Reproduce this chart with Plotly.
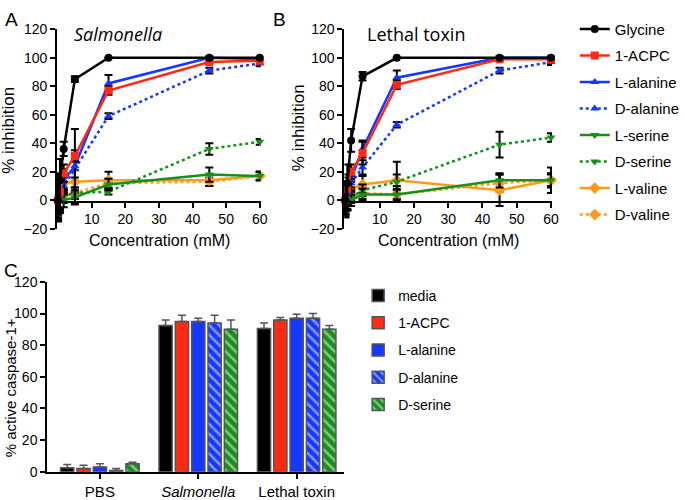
import plotly.graph_objects as go

W, H = 685, 500

conc = [0, 0.56, 1.67, 5, 15, 45, 60]
compounds = ['Glycine', '1-ACPC', 'L-alanine', 'D-alanine', 'L-serine', 'D-serine', 'L-valine', 'D-valine']

# panel A - Salmonella
salm_glycine = [0, 14, 36, 85, 100, 100, 100]
salm_acpc = [0, 6, 19, 31, 77, 97, 98]
salm_lala = [0, 5, 14, 24, 82, 100, 99]
salm_dala = [0, 4, 10, 22, 59, 91, 96]
salm_lser = [0, 2, 0, 2, 11, 18, 17]
salm_dser = [0, 1, 3, 5, 6, 36, 41]
salm_lval = [0, 4, 12, 13, 14, 14, 17]
salm_dval = [0, 2, 3, 5, 12, 13, 17]
salm_glycine_err = [14, 15, 5, 2, 0, 0, 0]
salm_acpc_err = [12, 12, 6, 4, 3, 1, 1]
salm_lala_err = [15, 14, 8, 26, 6, 1, 1]
salm_dala_err = [10, 10, 6, 6, 2, 2, 2]
salm_lser_err = [10, 10, 5, 5, 4, 5, 3]
salm_dser_err = [8, 8, 5, 4, 2, 4, 2]
salm_lval_err = [13, 13, 5, 8, 6, 4, 3]
salm_dval_err = [10, 10, 4, 4, 3, 3, 3]

# panel B - Lethal toxin
ltx_glycine = [0, 12, 42, 87, 100, 100, 100]
ltx_acpc = [0, 8, 20, 33, 81, 99, 99]
ltx_lala = [0, 6, 15, 36, 86, 100, 100]
ltx_dala = [0, 5, 12, 23, 53, 91, 97]
ltx_lser = [0, 1, 0, 4, 4, 14, 14]
ltx_dser = [0, 1, 2, 7, 13, 39, 44]
ltx_lval = [0, 3, 8, 11, 14, 7, 14]
ltx_dval = [0, 2, 3, 5, 4, 12, 14]
ltx_glycine_err = [12, 13, 8, 3, 0, 0, 0]
ltx_acpc_err = [10, 10, 5, 8, 3, 1, 1]
ltx_lala_err = [12, 10, 6, 6, 5, 1, 1]
ltx_dala_err = [10, 8, 5, 5, 2, 2, 2]
ltx_lser_err = [10, 8, 4, 4, 4, 5, 9]
ltx_dser_err = [8, 8, 4, 4, 14, 9, 3]
ltx_lval_err = [10, 10, 5, 6, 4, 11, 5]
ltx_dval_err = [8, 8, 3, 4, 3, 6, 4]

# panel C - caspase-1
groups = ['PBS', 'Salmonella', 'Lethal toxin']
group_labels = ['PBS', '<i>Salmonella</i>', 'Lethal toxin']
bar_names = ['media', '1-ACPC', 'L-alanine', 'D-alanine', 'D-serine']
casp_media = [2.5, 92.5, 90.5]
casp_acpc = [2, 95, 96]
casp_lala = [3, 95, 97]
casp_dala = [0.8, 94, 97]
casp_dser = [5, 90, 90]
casp_media_err = [2, 3.5, 3.5]
casp_acpc_err = [2, 4, 1.5]
casp_lala_err = [2, 2, 2.5]
casp_dala_err = [1.2, 5, 3]
casp_dser_err = [1, 6, 2.5]

BLACK = '#000000'
RED = '#ff2a12'
BLUE = '#1438ff'
GREEN = '#16901a'
ORANGE = '#ff9a1a'

STYLES = {
    'Glycine': (BLACK, 'circle', 'solid'),
    '1-ACPC': (RED, 'square', 'solid'),
    'L-alanine': (BLUE, 'triangle-up', 'solid'),
    'D-alanine': (BLUE, 'triangle-up', 'dot'),
    'L-serine': (GREEN, 'triangle-down', 'solid'),
    'D-serine': (GREEN, 'triangle-down', 'dot'),
    'L-valine': (ORANGE, 'diamond', 'solid'),
    'D-valine': (ORANGE, 'diamond', 'dot'),
}

salm = [salm_glycine, salm_acpc, salm_lala, salm_dala, salm_lser, salm_dser, salm_lval, salm_dval]
salm_err = [salm_glycine_err, salm_acpc_err, salm_lala_err, salm_dala_err,
            salm_lser_err, salm_dser_err, salm_lval_err, salm_dval_err]
ltx = [ltx_glycine, ltx_acpc, ltx_lala, ltx_dala, ltx_lser, ltx_dser, ltx_lval, ltx_dval]
ltx_err = [ltx_glycine_err, ltx_acpc_err, ltx_lala_err, ltx_dala_err,
           ltx_lser_err, ltx_dser_err, ltx_lval_err, ltx_dval_err]

fig = go.Figure()

# draw in reverse so glycine sits on top
for panel, (vals, errs, xa, ya) in enumerate([(salm, salm_err, 'x', 'y'), (ltx, ltx_err, 'x2', 'y2')]):
    for i in reversed(range(len(compounds))):
        name = compounds[i]
        color, symbol, dash = STYLES[name]
        fig.add_trace(go.Scatter(
            x=conc, y=vals[i], name=name, mode='lines+markers',
            xaxis=xa, yaxis=ya, cliponaxis=False,
            line=dict(color=color, width=2.5, dash=dash),
            marker=dict(color=color, symbol=symbol, size=8 if symbol != 'diamond' else 9),
            error_y=dict(type='data', array=errs[i], color='black', thickness=2, width=4),
            legend='legend', legendgroup=name, legendrank=i + 1,
            showlegend=(panel == 0),
        ))

bar_vals = [casp_media, casp_acpc, casp_lala, casp_dala, casp_dser]
bar_errs = [casp_media_err, casp_acpc_err, casp_lala_err, casp_dala_err, casp_dser_err]
bar_colors = [BLACK, RED, BLUE, BLUE, GREEN]
bar_hatch = ['', '', '', '\\', '\\']

for i, name in enumerate(bar_names):
    fig.add_trace(go.Bar(
        x=groups, y=bar_vals[i], name=name, xaxis='x3', yaxis='y3',
        marker=dict(color=bar_colors[i], line=dict(color='#555555', width=1.5),
                    pattern=dict(shape=bar_hatch[i], fgcolor='white', bgcolor=bar_colors[i],
                                 size=7, solidity=0.35, fillmode='overlay')),
        error_y=dict(type='data', array=bar_errs[i], arrayminus=[0] * len(groups),
                     symmetric=False, color='#555555', thickness=1.5, width=4),
        legend='legend2', legendgroup='b' + name,
    ))


def dx(p):
    return p / W


def dy(p):
    return 1 - p / H


FONT = 'Liberation Sans, Arial, sans-serif'
axis_common = dict(showline=True, linecolor='black', linewidth=2, ticks='outside',
                   ticklen=5, tickwidth=2, tickcolor='black', showgrid=False, zeroline=False,
                   tickfont=dict(size=14, color='black', family=FONT))

xline = dict(range=[-0.3, 60.3], tickvals=[10, 20, 30, 40, 50, 60], anchor='free',
             position=dy(200), **axis_common)
yline = dict(range=[-20, 120], tickvals=[-20, 0, 20, 40, 60, 80, 100, 120], **axis_common)


def label(text, x, y, size, angle=0, italic=False, family=FONT, xanchor='center'):
    if italic:
        text = '<i>' + text + '</i>'
    return dict(text=text, x=dx(x), y=dy(y), xref='paper', yref='paper', xanchor=xanchor,
                yanchor='middle', textangle=angle, showarrow=False,
                font=dict(size=size, family=family, color='black'))


fig.update_layout(
    width=W, height=H,
    margin=dict(l=0, r=0, t=0, b=0),
    paper_bgcolor='white', plot_bgcolor='white',
    font=dict(family=FONT, color='black'),
    barmode='group', bargap=0.17, bargroupgap=0.19,
    xaxis=dict(domain=[dx(58), dx(265)], **xline),
    yaxis=dict(domain=[dy(228), dy(22)], anchor='x', **yline),
    xaxis2=dict(domain=[dx(350), dx(561)], **xline),
    yaxis2=dict(domain=[dy(228), dy(22)], anchor='x2', **yline),
    xaxis3=dict(domain=[dx(48), dx(350)], anchor='y3', range=[-0.535, 2.485],
                tickvals=groups, ticktext=group_labels,
                **{**axis_common, 'tickfont': dict(size=15, color='black', family=FONT)}),
    yaxis3=dict(domain=[dy(479), dy(283)], anchor='x3', range=[0, 120],
                tickvals=[0, 20, 40, 60, 80, 100, 120], **axis_common),
    legend=dict(x=1.016, y=dy(5), xanchor='right', yanchor='top',
                font=dict(size=15, color='black', family=FONT),
                traceorder='grouped', tracegroupgap=4, bgcolor='rgba(0,0,0,0)'),
    legend2=dict(x=dx(364), y=dy(281), xanchor='left', yanchor='top',
                 font=dict(size=14, color='black', family=FONT),
                 traceorder='grouped', tracegroupgap=6, bgcolor='rgba(0,0,0,0)'),
    annotations=[
        label('A', 12, 12, 19),
        label('B', 284, 12, 19),
        label('C', 11, 271, 19),
        label('Salmonella', 73, 27, 18, italic=True, family='Open Sans, sans-serif', xanchor='left'),
        label('Lethal toxin', 371, 27, 18, family='Open Sans, sans-serif', xanchor='left'),
        label('% inhibition', 9, 126, 17, angle=-90),
        label('% inhibition', 303, 124, 17, angle=-90),
        label('% active caspase-1+', 11, 392, 15, angle=-90),
        label('Concentration (mM)', 162, 240, 16),
        label('Concentration (mM)', 456, 240, 16),
    ],
)

fig.write_html('out.html', config={'displayModeBar': False},
               post_script="document.body.style.margin='0';")
